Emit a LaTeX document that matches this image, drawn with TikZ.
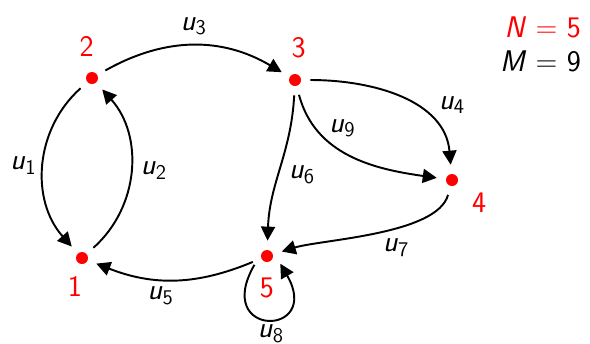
\documentclass[tikz,border=0pt]{standalone}
\usetikzlibrary{arrows.meta}
\newcommand{\ulab}[1]{\textit{u}\textsubscript{#1}}
\begin{document}
\begin{tikzpicture}[
  x=0.02cm, y=-0.02cm,
  font=\fontsize{17}{20}\selectfont\sffamily,
  >={Triangle[length=8pt,width=8pt]},
  vert/.style={
    circle, minimum size=0.6cm, inner sep=0pt,
    path picture={\fill[red] (path picture bounding box.center) circle (0.12cm);},
    label distance=0pt
  },
  num/.style={text=red},
  arc/.style={->, line width=1.1pt}
]
\useasboundingbox (0,0) rectangle (590,343);
\node[vert, label={[num, xshift=-4pt, yshift=2pt]below:1}] (v1) at (82,258) {};
\node[vert, label={[num, xshift=-3pt]above:2}] (v2) at (92,78) {};
\node[vert, label={[num, xshift=2pt]above:3}] (v3) at (295,80) {};
\node[vert, label={[num]-25:4}] (v4) at (452,180) {};
\node[vert, label={[num]below:5}] (v5) at (267,256) {};
\node[num, anchor=east] (nn) at (587,27) {\textit{N} = 5};
\node[anchor=east] (mm) at (587,61) {\textit{M} = 9};
\node (l8) at (271,334) {\ulab{8}};

\draw[arc] (v2) to[bend right=45] node[left] {\ulab{1}} (v1);
\draw[arc] (v1) to[bend right=45] node[right, xshift=2pt] {\ulab{2}} (v2);
\draw[arc] (v2) to[bend left=30] node[above, yshift=2pt] {\ulab{3}} (v3);
\draw[arc] (v3) to[out=0, in=95] node[pos=.72, above right] {\ulab{4}} (v4);
\draw[arc] (v3) to[out=-93, in=88] node[pos=.55, right, xshift=2pt] {\ulab{6}} (v5);
\draw[arc] (v3) to[out=-75, in=172] node[pos=.22, right, xshift=4pt] {\ulab{9}} (v4);
\draw[arc] (v4) to[out=-105, in=17, looseness=.6] node[pos=.4, below, yshift=-2pt] {\ulab{7}} (v5);
\draw[arc] (v5) to[bend left=22] node[below, xshift=-8pt] {\ulab{5}} (v1);
\draw[arc] (v5.215) .. controls +(240:1.7cm) and +(-60:1.7cm) .. (v5.-30);
\end{tikzpicture}
\end{document}
